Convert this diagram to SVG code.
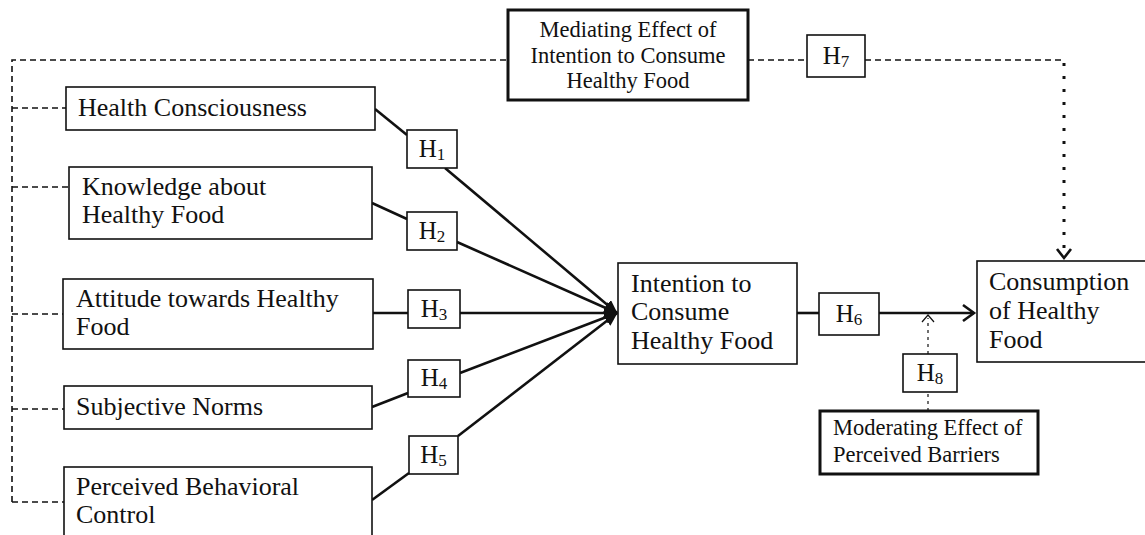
<svg xmlns="http://www.w3.org/2000/svg" width="1145" height="535" viewBox="0 0 1145 535">
<defs>
<style>
.box{fill:#fff;stroke:#111;stroke-width:1.6}
.bold{fill:#fff;stroke:#111;stroke-width:3}
.t{font-family:"Liberation Serif","Times New Roman",serif;font-size:26px;fill:#111}
.tm{font-family:"Liberation Serif","Times New Roman",serif;font-size:22.5px;fill:#111}
.h{font-family:"Liberation Serif","Times New Roman",serif;font-size:25px;fill:#111;text-anchor:middle}
.sub{font-size:17px}
.solid{fill:none;stroke:#111;stroke-width:2.6}
.dash{fill:none;stroke:#111;stroke-width:1.6;stroke-dasharray:6 4}
.dot{fill:none;stroke:#111;stroke-width:3;stroke-dasharray:3 10}
.thindot{fill:none;stroke:#111;stroke-width:1.2;stroke-dasharray:3 4}
</style>
<marker id="fill" viewBox="0 0 14 12" refX="13" refY="6" markerWidth="14" markerHeight="12" markerUnits="userSpaceOnUse" orient="auto">
<path d="M0,0 L14,6 L0,12 z" fill="#111"/>
</marker>
</defs>
<g id="connectors">
<path class="dash" d="M12,502 V60 H508"/>
<path class="dash" d="M12,108 H66"/>
<path class="dash" d="M12,187 H69"/>
<path class="dash" d="M12,314 H63"/>
<path class="dash" d="M12,409 H64"/>
<path class="dash" d="M12,502 H64"/>
<path class="dash" d="M748,60 H807"/>
<path class="dash" d="M865,60 H1064"/>
<path class="dot" d="M1064,63 V250"/>
<path class="solid" d="M1057,249 L1064,258 L1071,249"/>
<path class="solid" d="M375,109 L407,135"/>
<path class="solid" d="M445,168 L617,313" marker-end="url(#fill)"/>
<path class="solid" d="M372,203 L407,219"/>
<path class="solid" d="M457,242 L617,313" marker-end="url(#fill)"/>
<path class="solid" d="M373,313 H408"/>
<path class="solid" d="M460,313 H617" marker-end="url(#fill)"/>
<path class="solid" d="M372,407 L408,393"/>
<path class="solid" d="M460,373 L617,313" marker-end="url(#fill)"/>
<path class="solid" d="M372,500 L409,473"/>
<path class="solid" d="M458,436 L617,313" marker-end="url(#fill)"/>
<path class="solid" d="M797,313 H819"/>
<path class="solid" d="M879,313 H974"/>
<path class="solid" d="M963,305 L974,313 L963,321"/>
<path class="thindot" d="M928,411 V392"/>
<path class="thindot" d="M928,354 V318"/>
<path d="M922,322 L928,315 L934,322" fill="none" stroke="#111" stroke-width="1.2"/>
</g>
<g id="mediating">
<rect class="bold" x="508" y="10" width="240" height="90"/>
<text class="tm" x="628" y="37" text-anchor="middle">Mediating Effect of</text>
<text class="tm" x="628" y="63" text-anchor="middle">Intention to Consume</text>
<text class="tm" x="628" y="88" text-anchor="middle">Healthy Food</text>
</g>
<g id="h7">
<rect class="box" x="807" y="35" width="58" height="42"/>
<text class="h" x="836" y="64">H<tspan class="sub" dy="3">7</tspan></text>
</g>
<g id="health-consciousness">
<rect class="box" x="66" y="87" width="309" height="43"/>
<text class="t" x="78" y="116">Health Consciousness</text>
</g>
<g id="knowledge">
<rect class="box" x="69" y="167" width="303" height="72"/>
<text class="t" x="82" y="195">Knowledge about</text>
<text class="t" x="82" y="223">Healthy Food</text>
</g>
<g id="attitude">
<rect class="box" x="63" y="279" width="310" height="70"/>
<text class="t" x="76" y="307">Attitude towards Healthy</text>
<text class="t" x="76" y="335">Food</text>
</g>
<g id="subjective-norms">
<rect class="box" x="64" y="386" width="308" height="43"/>
<text class="t" x="76" y="415">Subjective Norms</text>
</g>
<g id="pbc">
<rect class="box" x="64" y="467" width="308" height="80"/>
<text class="t" x="76" y="495">Perceived Behavioral</text>
<text class="t" x="76" y="523">Control</text>
</g>
<g id="h1">
<rect class="box" x="407" y="130" width="50" height="38"/>
<text class="h" x="432" y="157">H<tspan class="sub" dy="3">1</tspan></text>
</g>
<g id="h2">
<rect class="box" x="407" y="212" width="50" height="38"/>
<text class="h" x="432" y="239">H<tspan class="sub" dy="3">2</tspan></text>
</g>
<g id="h3">
<rect class="box" x="408" y="290" width="52" height="38"/>
<text class="h" x="434" y="317">H<tspan class="sub" dy="3">3</tspan></text>
</g>
<g id="h4">
<rect class="box" x="408" y="360" width="52" height="37"/>
<text class="h" x="434" y="386">H<tspan class="sub" dy="3">4</tspan></text>
</g>
<g id="h5">
<rect class="box" x="409" y="436" width="49" height="38"/>
<text class="h" x="433.5" y="463">H<tspan class="sub" dy="3">5</tspan></text>
</g>
<g id="intention">
<rect class="box" x="618" y="263" width="179" height="101"/>
<text class="t" x="631" y="292">Intention to</text>
<text class="t" x="631" y="320">Consume</text>
<text class="t" x="631" y="349">Healthy Food</text>
</g>
<g id="h6">
<rect class="box" x="819" y="293" width="60" height="42"/>
<text class="h" x="849" y="322">H<tspan class="sub" dy="3">6</tspan></text>
</g>
<g id="consumption">
<rect class="box" x="977" y="261" width="175" height="101"/>
<text class="t" x="989" y="290">Consumption</text>
<text class="t" x="989" y="319">of Healthy</text>
<text class="t" x="989" y="348">Food</text>
</g>
<g id="h8">
<rect class="box" x="903" y="354" width="54" height="38"/>
<text class="h" x="930" y="381">H<tspan class="sub" dy="3">8</tspan></text>
</g>
<g id="moderating">
<rect class="bold" x="820" y="411" width="218" height="63"/>
<text class="tm" x="833" y="435">Moderating Effect of</text>
<text class="tm" x="833" y="462">Perceived Barriers</text>
</g>
</svg>
